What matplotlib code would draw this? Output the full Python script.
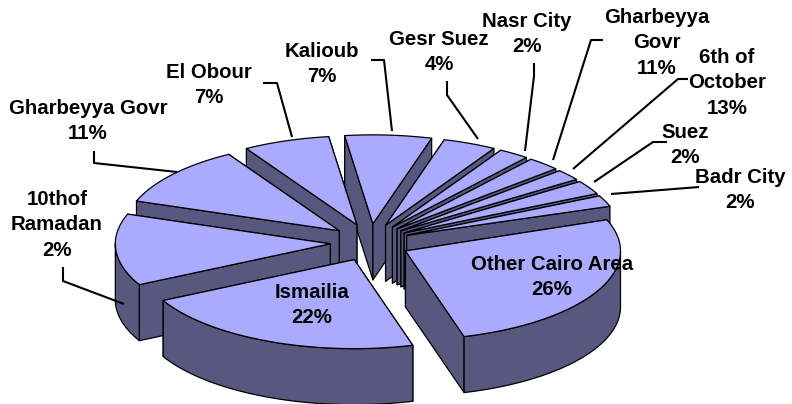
import numpy as np
from matplotlib import pyplot as plt
from matplotlib.patches import Polygon

# Slice sizes as drawn (percent), clockwise from the right-hand edge of Other Cairo Area
slice_share = [26.3, 21.8, 13, 11, 6.5, 6.5, 4, 2.3, 2.5, 2, 2.5, 2]

label_text = ["Other Cairo Area\n26%", "Ismailia\n22%", "10thof\nRamadan\n2%", "Gharbeyya Govr\n11%",
              "El Obour\n7%", "Kalioub\n7%", "Gesr Suez\n4%", "Nasr City\n2%", "Gharbeyya\nGovr\n11%",
              "6th of\nOctober\n13%", "Suez\n2%", "Badr City\n2%"]
label_x = [552, 312, 57, 88, 209, 322, 439, 527, 657, 727, 685, 740]
label_y = [277, 305, 225, 121, 85, 64, 52, 34, 43, 83, 145, 190]

# Leader lines, pixel positions
leaders = [
    None, None,
    [(63, 267), (63, 281), (124, 304)],
    [(94, 151), (94, 163), (177, 172)],
    [(263, 83), (277, 83), (292, 137)],
    [(371, 60), (384, 60), (392, 131)],
    [(447, 81), (447, 95), (478, 139)],
    [(534, 63), (534, 76), (525, 151)],
    [(603, 40), (591, 40), (553, 160)],
    [(688, 79), (678, 79), (573, 169)],
    [(667, 142), (653, 142), (594, 182)],
    [(699, 187), (611, 194)],
]

TOP = "#aaaaff"
SIDE = "#58587f"
CX, CY = 370, 242.5
RX, RY = 215, 89
DEPTH = 56
EXPLODE_X, EXPLODE_Y = 0.185, 0.21
START = 20.5


def ell(c, t):
    t = np.radians(t)
    return np.column_stack([c[0] + RX * np.cos(t), c[1] - RY * np.sin(t)])


def draw_slice(ax, t0, t1):
    mid = (t0 + t1) / 2
    apex = np.array([CX + EXPLODE_X * RX * np.cos(np.radians(mid)), CY - EXPLODE_Y * RY * np.sin(np.radians(mid))])
    arc = ell(apex, np.linspace(t0, t1, 60))
    down = np.array([0, DEPTH])
    inner = arc[30] * 0.5 + apex * 0.5

    def add(pts, col):
        ax.add_patch(Polygon(pts, closed=True, facecolor=col, edgecolor="black", lw=0.9, joinstyle="round"))

    # radial walls, the one facing away from the viewer first
    walls = []
    for q in (arc[0], arc[-1]):
        e = q - apex
        side = e[0] * (inner - apex)[1] - e[1] * (inner - apex)[0]
        walls.append((side * e[0] < 0, q))
    walls.sort(key=lambda w: w[0])
    for _, q in walls:
        add([apex, q, q + down, apex + down], SIDE)

    # outer wall, only the part in front
    tt = np.linspace(t0, t1, 200)
    front = tt[np.sin(np.radians(tt)) < 0.0]
    if len(front) > 1:
        a = ell(apex, front)
        add(np.vstack([a, (a + down)[::-1]]), SIDE)

    add(np.vstack([apex, arc]), TOP)


fig, ax = plt.subplots(figsize=(7.92, 4.04), dpi=100)
fig.subplots_adjust(0, 0, 1, 1)
ax.set_xlim(0, 792)
ax.set_ylim(404, 0)
ax.axis("off")

edges = START - np.cumsum([0] + slice_share) * 3.6
spans = list(zip(edges[:-1], edges[1:]))
for t0, t1 in sorted(spans, key=lambda s: -np.sin(np.radians((s[0] + s[1]) / 2))):
    draw_slice(ax, t0, t1)

for pts in leaders:
    if pts:
        ax.plot(*zip(*pts), color="black", lw=1.5, solid_capstyle="butt", zorder=5)

for x, y, s in zip(label_x, label_y, label_text):
    ax.text(x, y, s, ha="center", va="center", family="Liberation Sans", weight="bold",
            fontsize=14.7, linespacing=1.46, zorder=6)

fig.savefig("out.png", dpi=100)
